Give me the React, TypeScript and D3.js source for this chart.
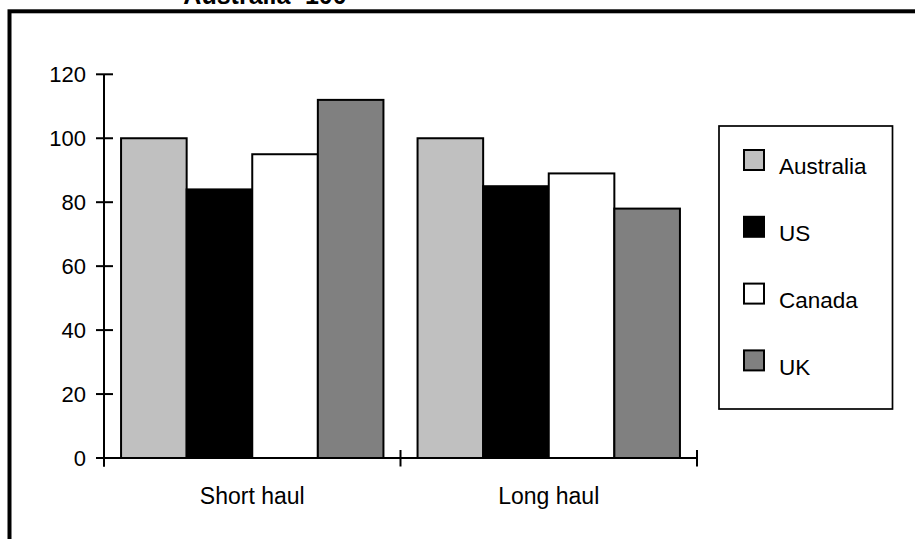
import React from "react";
import * as d3 from "d3";

const categories = ["Short haul", "Long haul"];
const seriesNames = ["Australia", "US", "Canada", "UK"];
const seriesColors = ["#c0c0c0", "#000000", "#ffffff", "#808080"];
const shortHaul = [100, 84, 95, 112];
const longHaul = [100, 85, 89, 78];
const yTicks = [0, 20, 40, 60, 80, 100, 120];
const title = "Australia=100";

const values = [shortHaul, longHaul];

export default function App() {
  const W = 915, H = 539;
  const font = "'Liberation Sans', Arial, Helvetica, sans-serif";
  const y = d3.scaleLinear().domain([0, 120]).range([458, 74.3]);
  const x0 = d3.scaleBand<string>().domain(categories).range([104, 697]).paddingInner(0).paddingOuter(0);
  const x1 = d3.scaleBand<string>().domain(seriesNames).range([0, x0.bandwidth()]).paddingInner(0).paddingOuter(0.26);

  const legendX = 744, legendY0 = 150, legendStep = 66.8;

  return (
    <svg width={W} height={H} style={{ position: "absolute", left: 0, top: 0, background: "#fff" }} fontFamily={font}>
      <rect x={0} y={0} width={W} height={H} fill="#fff" />
      {/* outer frame */}
      <rect x={9.5} y={11.3} width={W + 20} height={H + 20} fill="none" stroke="#000" strokeWidth={4} />
      <text x={265} y={4} textAnchor="middle" fontWeight="bold" fontSize={25}>{title}</text>

      {/* bars */}
      {categories.map((c, ci) => (
        <g key={c}>
          {seriesNames.map((s, si) => {
            const v = values[ci][si];
            const bx = (x0(c) as number) + (x1(s) as number);
            return (
              <rect key={s} x={bx} y={y(v)} width={x1.bandwidth()} height={y(0) - y(v)}
                fill={seriesColors[si]} stroke="#000" strokeWidth={2} />
            );
          })}
        </g>
      ))}

      {/* y axis */}
      <line x1={104} x2={104} y1={y(120)} y2={466.5} stroke="#000" strokeWidth={2} />
      {yTicks.map(t => (
        <g key={t}>
          <line x1={96} x2={113} y1={y(t)} y2={y(t)} stroke="#000" strokeWidth={2} />
          <text x={86} y={y(t)} dy="0.35em" textAnchor="end" fontSize={22}>{t}</text>
        </g>
      ))}

      {/* x axis */}
      <line x1={104} x2={697} y1={y(0)} y2={y(0)} stroke="#000" strokeWidth={2} />
      {[...categories.map(c => x0(c) as number), 697].map((tx, i) => (
        <line key={i} x1={tx} x2={tx} y1={450} y2={466.5} stroke="#000" strokeWidth={2} />
      ))}
      {categories.map(c => (
        <text key={c} x={(x0(c) as number) + x0.bandwidth() / 2} y={503.5} textAnchor="middle" fontSize={23}>{c}</text>
      ))}

      {/* legend */}
      <rect x={719} y={126} width={173.5} height={283} fill="#fff" stroke="#000" strokeWidth={1.7} />
      {seriesNames.map((s, i) => (
        <g key={s}>
          <rect x={legendX} y={legendY0 + i * legendStep} width={20} height={20} fill={seriesColors[i]} stroke="#000" strokeWidth={2} />
          <text x={779} y={legendY0 + i * legendStep + 24.3} fontSize={22.5}>{s}</text>
        </g>
      ))}
    </svg>
  );
}
